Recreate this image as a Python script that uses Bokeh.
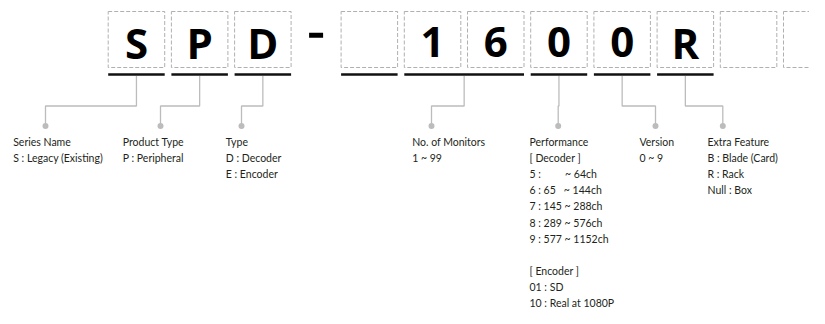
from bokeh.plotting import figure
from bokeh.models import Range1d
from bokeh.core.properties import value
from bokeh.embed import file_html
from bokeh.resources import INLINE

# ---------------- content ----------------
code_chars = ["S", "P", "D", "", "1", "6", "0", "0", "R", "", ""]
underline_groups = [[0], [1], [2], [3], [4, 5], [6], [7], [8]]
field_boxes = [[0], [1], [2], [4, 5], [6], [7], [8]]
field_titles = ["Series Name", "Product Type", "Type", "No. of Monitors",
                "Performance", "Version", "Extra Feature"]
field_details = [
    ["S : Legacy (Existing)"],
    ["P : Peripheral"],
    ["D : Decoder", "E : Encoder"],
    ["1 ~ 99"],
    ["[ Decoder ]",
     "5 :\u00a0\u00a0\u00a0\u00a0\u00a0\u00a0\u00a0\u00a0 ~ 64ch",
     "6 : 65\u00a0\u00a0 ~ 144ch",
     "7 : 145 ~ 288ch",
     "8 : 289 ~ 576ch",
     "9 : 577 ~ 1152ch",
     "",
     "[ Encoder ]",
     "01 : SD",
     "10 : Real at 1080P"],
    ["0 ~ 9"],
    ["B : Blade (Card)", "R : Rack", "Null : Box"],
]

# ---------------- layout ----------------
W, H = 809, 308
BOX_X0, PITCH, BOX_W, DASH_EXTRA = 107.7, 63.2, 56.5, 43.3
BOX_TOP, BOX_BOTTOM = 11, 67
LETTER_MID = 41.5
UNDERLINE_Y = 74
LINE_TOP = 75.5
ELBOW_Y = 105.5
DOT_Y = 125.5
label_x = [12.7, 122.3, 225.3, 411.7, 529, 639, 707]
dot_x = [45, 160, 241, 431, 557.7, 655, 722.3]
TEXT_Y0, LINE_H = 141.5, 16.1

TEXT_COLOR = "#231f20"
GREY = "#bcbcbc"

p = figure(width=W, height=H, output_backend="svg", toolbar_location=None,
           tools="", x_range=Range1d(0, W), y_range=Range1d(H, 0),
           min_border=0)
p.axis.visible = False
p.grid.visible = False
p.outline_line_color = None
p.background_fill_color = "white"
p.border_fill_color = "white"

def box_left(i):
    return BOX_X0 + i * PITCH + (DASH_EXTRA if i >= 3 else 0)

n = len(code_chars)
lefts = [box_left(i) for i in range(n)]
rights = [l + BOX_W for l in lefts]
centers = [(l + r) / 2 for l, r in zip(lefts, rights)]

# dashed boxes
p.quad(left=lefts, right=rights, top=[BOX_TOP] * n, bottom=[BOX_BOTTOM] * n,
       fill_color=None, line_color="#b0b0b0", line_width=1, line_dash="4 2")

# big letters
p.text(x=centers, y=[LETTER_MID] * n, text=code_chars,
       text_font=value("Open Sans"), text_font_style="bold",
       text_font_size="42px", text_align="center",
       text_baseline="middle", text_color="#000000")

# hyphen between groups
gap_c = (rights[2] + lefts[3]) / 2
p.quad(left=[gap_c - 7], right=[gap_c + 7], top=[32.3], bottom=[37.2],
       fill_color="#000000", line_color=None)

# underlines
ux0 = [lefts[g[0]] for g in underline_groups]
ux1 = [rights[g[-1]] for g in underline_groups]
p.segment(x0=ux0, x1=ux1, y0=[UNDERLINE_Y] * len(ux0), y1=[UNDERLINE_Y] * len(ux0),
          line_color="#111111", line_width=2.5)

# connectors
xs, ys = [], []
for g, dx in zip(field_boxes, dot_x):
    vx = (lefts[g[0]] + rights[g[-1]]) / 2
    xs.append([vx, vx, dx, dx])
    ys.append([LINE_TOP, ELBOW_Y, ELBOW_Y, DOT_Y])
p.multi_line(xs=xs, ys=ys, line_color=GREY, line_width=1.3)
p.scatter(x=dot_x, y=[DOT_Y] * len(dot_x), size=6, fill_color=GREY,
          line_color=None)

# texts
tx, ty, tt = [], [], []
for lx, title, det in zip(label_x, field_titles, field_details):
    lines = [title] + det
    for k, s in enumerate(lines):
        if s:
            tx.append(lx)
            ty.append(TEXT_Y0 + k * LINE_H)
            tt.append(s)
p.text(x=tx, y=ty, text=tt, text_font=value("Lato"), text_font_size="10.5px",
       text_align="left", text_baseline="middle", text_color=TEXT_COLOR)

open("out.html", "w").write(file_html(p, INLINE))
